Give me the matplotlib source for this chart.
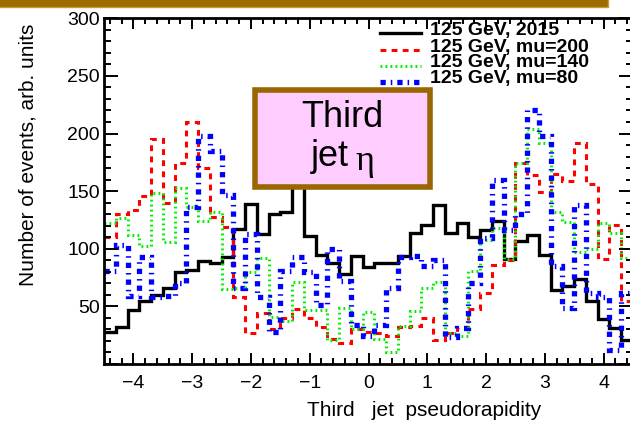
import numpy as np
import matplotlib
matplotlib.use("Agg")
import matplotlib.pyplot as plt
from matplotlib.lines import Line2D
from matplotlib.patches import Rectangle
from matplotlib.ticker import MultipleLocator

plt.rcParams['font.family'] = ['Liberation Sans', 'DejaVu Sans']
plt.rcParams['lines.scale_dashes'] = False

# ---------------- data ----------------
bin_edges = np.linspace(-4.5, 4.5, 46)

h_2015 = [28, 32, 47, 55, 60, 66, 80, 82, 89, 88, 93, 117, 139, 113, 130, 132, 170, 111,
          95, 88, 78, 94, 84, 88, 88, 94, 114, 121, 138, 114, 122, 110, 116, 124, 91, 107,
          112, 95, 64, 68, 74, 55, 39, 31, 21]
h_mu200 = [110, 130, 134, 146, 195, 140, 174, 210, 170, 128, 119, 58, 27, 44, 30, 40, 48, 40,
           32, 22, 18, 30, 28, 27, 24, 32, 33, 40, 21, 27, 32, 48, 62, 86, 90, 174,
           164, 149, 165, 159, 192, 156, 91, 121, 55]
h_mu140 = [122, 127, 112, 102, 148, 106, 153, 136, 124, 132, 65, 66, 80, 92, 41, 37, 71, 47,
           47, 21, 49, 30, 45, 22, 10, 33, 46, 66, 71, 27, 24, 81, 108, 118, 91, 174,
           204, 192, 132, 123, 97, 100, 122, 114, 92]
h_mu80 = [81, 103, 59, 93, 58, 59, 70, 136, 198, 185, 147, 66, 113, 58, 28, 81, 93, 80,
          51, 100, 72, 34, 24, 34, 66, 93, 94, 85, 90, 23, 31, 70, 109, 160, 116, 130,
          220, 198, 85, 49, 138, 62, 58, 12, 62]

series_labels = ["125 GeV, 2015", "125 GeV, mu=200", "125 GeV, mu=140", "125 GeV, mu=80"]
x_ticks = [-4, -3, -2, -1, 0, 1, 2, 3, 4]
y_ticks = [0, 50, 100, 150, 200, 250, 300]
y_tick_labels = ["", "50", "100", "150", "200", "250", "300"]

# ---------------- styles ----------------
styles = [
    dict(color='black', lw=2.4, linestyle='-'),
    dict(color='#ff0000', lw=2.2, linestyle=(0, (4.2, 3.8))),
    dict(color='#00ee00', lw=2.2, linestyle=(0, (1.3, 2.3))),
    dict(color='#0000ff', lw=3.8, linestyle=(0, (3.8, 3.6, 1.1, 3.6))),
]

W, H = 630, 426
fig = plt.figure(figsize=(W / 100, H / 100), dpi=100)
fig.patch.set_facecolor('white')

def fx(px):
    return px / W

def fy(py):
    return 1 - py / H

ax = fig.add_axes([fx(104), 62 / H, 529 / W, 345.7 / H])

for vals, st in zip([h_2015, h_mu200, h_mu140, h_mu80], styles):
    ax.stairs(vals, bin_edges, baseline=None, color=st['color'], linewidth=st['lw'],
              linestyle=st['linestyle'], joinstyle='miter')

ax.set_xlim(-4.5, 4.5)
ax.set_ylim(0, 300)
ax.set_xticks(x_ticks)
ax.set_xticklabels([("\u2212%d" % -v) if v < 0 else "%d" % v for v in x_ticks])
ax.set_yticks(y_ticks)
ax.set_yticklabels(y_tick_labels)
ax.xaxis.set_minor_locator(MultipleLocator(0.2))
ax.yaxis.set_minor_locator(MultipleLocator(10))

ax.tick_params(axis='x', which='major', direction='in', top=True, length=8, width=1.4,
               labelsize=14, pad=8)
ax.tick_params(axis='x', which='minor', direction='in', top=True, length=4.5, width=1.4)
ax.tick_params(axis='y', which='major', direction='in', right=True, length=10, width=1.4,
               labelsize=14, pad=3)
ax.tick_params(axis='y', which='minor', direction='in', right=True, length=5, width=1.4)
for s in ax.spines.values():
    s.set_linewidth(2.0)

# axis titles
fig.text(fx(28), fy(155), "Number of events, arb. units", rotation=90,
         ha='center', va='center', fontsize=15)
fig.text(fx(424), fy(411), "Third   jet  pseudorapidity", ha='center', va='center',
         fontsize=15)

# legend (manual)
leg_text_y = [30, 47.5, 63, 78.5]
leg_line_y = [33, 50, 66, 82]
for lab, st, ty, ly in zip(series_labels, styles, leg_text_y, leg_line_y):
    fig.add_artist(Line2D([fx(380), fx(421)], [fy(ly), fy(ly)], color=st['color'],
                          linewidth=st['lw'], linestyle=st['linestyle'], zorder=5))
    fig.text(fx(430), fy(ty), lab, ha='left', va='center', fontsize=14,
             fontweight='bold', zorder=6)

# text box "Third jet eta"
box = Rectangle((fx(255), fy(187)), fx(430) - fx(255), fy(90) - fy(187),
                transform=fig.transFigure, facecolor='#ffccff', edgecolor='#996600',
                linewidth=4, zorder=7)
fig.add_artist(box)
fig.text(fx(342), fy(117), "Third", ha='center', va='center', fontsize=26, zorder=8)
fig.text(fx(349), fy(157), "jet", ha='right', va='center', fontsize=26, zorder=8)
fig.text(fx(355), fy(161), "\u03b7", ha='left', va='center', fontsize=26, zorder=8,
         family=['Liberation Serif', 'DejaVu Serif'])

# top banner edge (box cut off at the top of the picture)
bar = Rectangle((fx(-10), fy(7)), fx(608) - fx(-10), fy(-20) - fy(7),
                transform=fig.transFigure, facecolor='#9c6c00', edgecolor='#c89a3a',
                linewidth=1.0, zorder=7)
fig.add_artist(bar)

fig.savefig('out.png', dpi=100)
